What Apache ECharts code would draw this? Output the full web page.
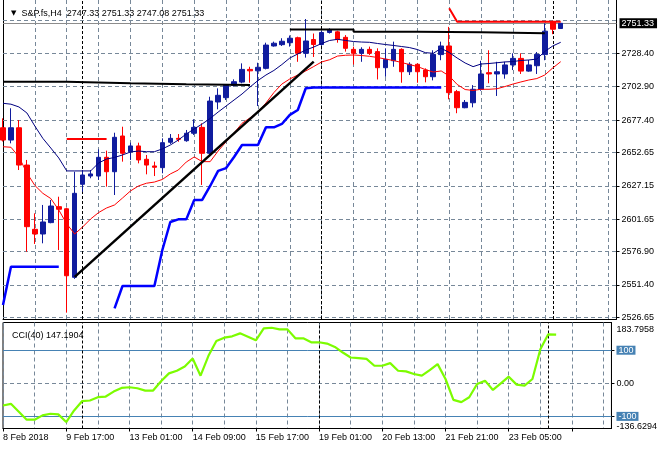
<!DOCTYPE html>
<html>
<head>
<meta charset="utf-8">
<script src="https://cdn.jsdelivr.net/npm/echarts@6/dist/echarts.min.js"></script>
<style>html,body{margin:0;padding:0;background:#fff}#chart{width:660px;height:450px}</style>
</head>
<body>
<div id="chart"></div>
<script>
// ---------- data ----------
const timeLabels = ['8 Feb 2018', '9 Feb 17:00', '13 Feb 01:00', '14 Feb 09:00', '15 Feb 17:00',
  '19 Feb 01:00', '20 Feb 13:00', '21 Feb 21:00', '23 Feb 05:00'];
const LABEL_STEP = 8;   // bars between time labels
const GRID_STEP = 4;    // bars between vertical grid lines
const SLOTS = 77;       // bar slots across the chart (71 bars + empty space)

const opens = [2671.5,2662.1,2671.5,2643.0,2593.9,2590.3,2599.0,2611.2,2609.6,2557.2,
  2628.3,2634.6,2634.6,2648.9,2637.9,2665.2,2653.2,2657.6,2647.4,2642.3,
  2641.0,2660.4,2663.4,2661.6,2667.3,2671.8,2652.0,2691.2,2694.5,2703.9,
  2706.4,2716.1,2715.0,2716.9,2734.0,2735.0,2736.5,2740.3,2728.4,2738.9,
  2735.1,2744.3,2744.8,2740.6,2731.4,2728.4,2731.4,2729.7,2717.4,2722.7,
  2731.4,2714.3,2720.0,2715.6,2710.5,2727.4,2734.0,2699.1,2686.8,2690.6,
  2700.9,2713.6,2712.6,2712.6,2719.5,2724.5,2714.8,2718.9,2727.4,2752.4,2747.33];
const closes = [2662.1,2671.5,2643.0,2595.9,2590.3,2599.5,2611.7,2609.2,2558.4,2621.4,
  2635.4,2636.2,2648.9,2637.9,2664.2,2652.0,2657.6,2646.9,2643.0,2641.3,
  2660.1,2663.4,2662.7,2667.3,2671.8,2652.0,2691.9,2696.3,2703.9,2706.7,
  2716.1,2715.0,2717.7,2734.7,2736.1,2737.6,2739.9,2728.4,2737.8,2735.1,
  2744.3,2746.6,2738.9,2732.2,2728.4,2731.4,2728.4,2717.4,2723.8,2731.4,
  2714.3,2720.0,2714.3,2710.5,2727.6,2734.0,2698.3,2686.8,2690.9,2700.9,
  2712.6,2712.6,2714.3,2719.5,2724.5,2714.8,2719.5,2727.6,2745.3,2746.8,2751.33];
const lows = [2661.0,2659.6,2639.2,2576.8,2582.7,2583.2,2598.5,2578.1,2530.2,2556.0,
  2622.6,2632.9,2631.6,2626.5,2620.1,2645.6,2646.9,2644.3,2635.9,2634.6,
  2636.7,2659.1,2660.8,2660.8,2666.0,2627.8,2650.7,2685.6,2692.7,2702.9,
  2705.5,2705.9,2688.1,2716.1,2733.5,2734.0,2733.5,2721.9,2725.1,2725.6,
  2734.3,2743.5,2736.5,2729.7,2719.8,2721.9,2727.1,2708.4,2710.5,2718.1,
  2705.9,2711.8,2705.9,2706.2,2707.7,2723.1,2693.2,2682.6,2686.4,2687.1,
  2699.8,2705.5,2695.8,2709.0,2715.6,2712.6,2714.3,2712.6,2723.1,2743.0,2747.08];
const highs = [2678.7,2686.4,2677.4,2646.9,2606.1,2612.5,2616.3,2618.8,2610.5,2637.9,
  2639.2,2639.2,2655.0,2654.0,2667.7,2672.3,2660.1,2660.1,2650.7,2645.6,
  2663.4,2666.7,2666.7,2669.8,2678.0,2674.9,2695.2,2701.6,2704.9,2708.5,
  2720.7,2718.1,2721.2,2736.5,2737.3,2739.9,2742.0,2741.1,2754.6,2743.5,
  2745.6,2747.5,2745.6,2742.3,2733.5,2733.0,2733.5,2732.2,2732.2,2737.3,
  2732.2,2721.5,2720.7,2716.9,2730.7,2737.3,2748.6,2700.4,2692.7,2704.1,
  2722.7,2730.7,2721.9,2721.9,2728.4,2728.4,2723.3,2729.4,2751.3,2753.3,2751.33];

const upperMA = [2690.2,2689.5,2687.4,2682.8,2672.8,2663.4,2656.0,2648.4,2638.5,2638.5,
  2638.5,2638.5,2644.6,2647.6,2648.8,2650.7,2653.0,2653.7,2653.2,2653.2,
  2655.3,2658.3,2662.1,2666.7,2670.6,2674.4,2678.6,2683.5,2688.1,2692.7,
  2697.3,2702.6,2707.6,2711.8,2715.3,2719.8,2724.8,2727.9,2730.9,2733.2,
  2735.9,2738.2,2739.1,2738.2,2737.4,2737.0,2736.8,2735.9,2735.1,2734.4,
  2733.6,2732.8,2731.3,2728.9,2728.4,2732.2,2729.0,2724.8,2721.0,2718.2,
  2720.2,2720.6,2721.2,2721.8,2722.1,2722.9,2723.3,2724.0,2729.8,2734.0,2736.8];
const lowerMA = [2657.0,2656.6,2649.2,2636.9,2627.4,2621.4,2617.4,2608.7,2598.0,2590.3,
  2595.7,2601.8,2606.7,2610.2,2612.5,2617.8,2623.2,2627.0,2629.1,2630.0,
  2632.0,2636.2,2639.2,2645.3,2649.2,2645.6,2645.6,2653.7,2660.8,2667.5,
  2674.9,2679.0,2683.5,2690.4,2698.4,2704.9,2708.8,2711.8,2714.9,2718.3,
  2721.8,2723.5,2726.3,2726.9,2727.1,2726.7,2726.1,2725.2,2724.0,2722.9,
  2721.4,2719.8,2718.3,2716.0,2714.1,2714.9,2711.1,2704.6,2700.7,2700.0,
  2700.9,2700.9,2701.3,2703.0,2704.9,2706.5,2708.0,2709.1,2711.8,2717.2,2722.0];
const trailStop = [2536.1,2565.3,2565.3,2565.3,2565.3,2565.3,2565.3,2565.3,null,null,
  null,null,null,null,2533.5,2550.6,2550.6,2550.6,2550.6,2550.6,
  2578.1,2599.5,2601.5,2601.5,2616.3,2616.3,2627.0,2638.5,2640.7,2649.2,
  2658.3,2658.3,2658.3,2671.8,2671.8,2674.4,2681.3,2685.1,2701.7,2702.3,
  2702.3,2702.3,2702.3,2702.3,2702.3,2702.3,2702.3,2702.3,2702.3,2702.3,
  2702.3,2702.3,2702.3,2702.3,2702.3,2702.3,null,null,null,null,
  null,null,null,null,null,null,null,null,null,null,null];
const cci = [-67,-62,-86,-110,-110,-97,-92,-94,-117,-82,
  -54,-52,-42,-40,-25,-14,-12,-15,-22,-22,
  6,30,38,51,75,23,83,128,138,142,
  151,141,130,166,168,163,163,136,136,124,
  124,120,110,93,78,76,74,53,53,61,
  38,36,28,23,40,58,13,-50,-57,-42,
  -2,8,-20,0,20,-4,-7,13,103,148,147.19];

// drawn objects (bar index / price)
const lowLevels = [2706.7, 2705.5, 2704.7, 2704.2];
const lowLevelBars = [0, 8, 16, 23, 31];
const highLevels = [2746.6, 2744.9, 2744.4, 2743.7];
const highLevelBars = [36, 44, 52, 60, 68];
const trendBars = [9, 39];
const trendPrices = [2557.5, 2722.0];
const redLevelBars = [8, 13];
const redLevelPrices = [2662.9, 2662.9];
const redTopBars = [56, 57, 70];
const redTopPrices = [2762.8, 2752.5, 2752.5];
const weekSeparators = [10, 40, 69];

const priceTicks = [2526.65, 2551.40, 2576.90, 2601.65, 2627.15, 2652.65, 2677.40, 2702.90, 2728.40];
const hiddenGridPrice = [2753.90];
const lastPrice = 2751.33;
const headerText = 'S&P.fs,H4  2747.33 2751.33 2747.08 2751.33';
const cciTitle = 'CCI(40) 147.1904';
const cciMax = 183.7958, cciMin = -136.6294;
const cciLevels = [100, -100];

// ---------- build ----------
const FONT = "'Liberation Sans', Arial, sans-serif";
const categories = Array.from({length: SLOTS}, (_, i) =>
  (i % LABEL_STEP === 0 && timeLabels[i / LABEL_STEP]) || '');
const candles = opens.map((o, i) => [o, closes[i], lows[i], highs[i]]);
function steps(levels, bars) {
  const out = [];
  levels.forEach((v, k) => { out.push([bars[k], v]); out.push([bars[k + 1], v]); });
  return out;
}
const pairs = (xs, ys) => xs.map((x, i) => [x, ys[i]]);

const gridLine = {color: '#778899', type: [4, 3], width: 1};
const sepLine = {color: '#000', type: [3, 2], width: 1};
const xMax = 76.6875;

const baseX = {
  type: 'category', data: categories, boundaryGap: false, min: 0, max: xMax,
  axisLine: {show: true, onZero: false, lineStyle: {color: '#000', width: 1}},
  splitLine: {show: true, interval: (i) => i % GRID_STEP === 0, lineStyle: gridLine}
};

const option = {
  animation: false,
  backgroundColor: '#fff',
  textStyle: {fontFamily: FONT},
  title: [
    {text: '{t|▼}  ' + headerText, left: 6, top: 4,
     textStyle: {fontFamily: FONT, fontSize: 9, fontWeight: 'normal', color: '#000',
       rich: {t: {fontFamily: 'DejaVu Sans', fontSize: 7, color: '#000'}}}},
    {text: cciTitle, left: 7, top: 326,
     textStyle: {fontFamily: FONT, fontSize: 9, fontWeight: 'normal', color: '#000'}}
  ],
  grid: [
    {left: 3, top: 0, width: 613.5, height: 319},
    {left: 3, top: 322.5, width: 613.5, height: 106, show: true, borderColor: '#000', borderWidth: 1}
  ],
  xAxis: [
    Object.assign({}, baseX, {gridIndex: 0, axisTick: {show: false}, axisLabel: {show: false}}),
    Object.assign({}, baseX, {gridIndex: 1,
      axisTick: {show: true, interval: (i) => i % LABEL_STEP === 0, length: 3, lineStyle: {color: '#000'}},
      axisLabel: {show: true, interval: (i) => i % LABEL_STEP === 0, align: 'left', margin: 5,
        color: '#000', fontFamily: FONT, fontSize: 9}})
  ],
  yAxis: [
    {gridIndex: 0, type: 'value', position: 'right', min: 2525.35, max: 2769.13,
     axisLine: {show: true, lineStyle: {color: '#000', width: 1}},
     axisTick: {show: true, length: 3, customValues: priceTicks, lineStyle: {color: '#000'}},
     axisLabel: {customValues: priceTicks, formatter: (v) => Number(v).toFixed(2),
       color: '#000', fontFamily: FONT, fontSize: 9, margin: 5},
     splitLine: {show: false}},
    {gridIndex: 0, type: 'value', position: 'left', min: 2525.35, max: 2769.13,
     axisLine: {show: true, lineStyle: {color: '#000', width: 1}},
     axisTick: {show: false}, axisLabel: {show: false}, splitLine: {show: false}},
    {gridIndex: 1, type: 'value', position: 'right', min: cciMin, max: cciMax,
     axisLine: {show: true, lineStyle: {color: '#000', width: 1}},
     axisTick: {show: true, length: 3, customValues: [100, 0, -100], lineStyle: {color: '#000'}},
     axisLabel: {customValues: [cciMax, 100, 0, -100, cciMin], margin: 5, hideOverlap: false,
       showMinLabel: true, showMaxLabel: true,
       color: '#000', fontFamily: FONT, fontSize: 9,
       formatter: (v) => {
         v = Number(v);
         if (Math.abs(v - cciMax) < 1e-6) return '{top|' + cciMax.toFixed(4) + '}';
         if (Math.abs(v - cciMin) < 1e-6) return '{bot|' + cciMin.toFixed(4) + '}';
         if (v === 0) return '0.00';
         return '{lvl|' + v + '}';
       },
       rich: {
         top: {padding: [15, 0, 0, 0]},
         bot: {padding: [0, 0, 3, 0]},
         lvl: {backgroundColor: '#4682b4', color: '#fff', padding: [0, 2, 0, 2], lineHeight: 9}
       }},
     splitLine: {show: false}}
  ],
  series: [
    {type: 'candlestick', name: 'price', xAxisIndex: 0, yAxisIndex: 0, z: 2,
     data: candles, barWidth: 5,
     itemStyle: {color: '#101c9e', color0: '#ff0000', borderColor: '#101c9e', borderColor0: '#ff0000', borderWidth: 1},
     markLine: {
       silent: true, symbol: ['none', 'none'], z: 1, animation: false,
       label: {show: false},
       data: [].concat(
         priceTicks.concat(hiddenGridPrice).map(v => ({yAxis: v, lineStyle: gridLine})),
         weekSeparators.map(b => ({xAxis: b, lineStyle: sepLine})),
         [{yAxis: lastPrice, lineStyle: {color: '#8c8c8c', type: 'solid', width: 1},
           label: {show: true, position: 'end', distance: 3, formatter: lastPrice.toFixed(2),
             backgroundColor: '#000', color: '#fff', padding: [1, 3, 0, 2],
             fontFamily: FONT, fontSize: 9}}])
     }},
    {type: 'line', name: 'upper', xAxisIndex: 0, yAxisIndex: 0, z: 3, data: upperMA,
     symbol: 'none', lineStyle: {color: '#000080', width: 1}},
    {type: 'line', name: 'lower', xAxisIndex: 0, yAxisIndex: 0, z: 3, data: lowerMA,
     symbol: 'none', lineStyle: {color: '#ff0000', width: 1}},
    {type: 'line', name: 'stop', xAxisIndex: 0, yAxisIndex: 0, z: 3, data: trailStop,
     symbol: 'none', connectNulls: false, lineStyle: {color: '#0000ff', width: 2.5}},
    {type: 'line', name: 'trend', xAxisIndex: 0, yAxisIndex: 0, z: 4, data: pairs(trendBars, trendPrices),
     symbol: 'none', lineStyle: {color: '#000', width: 2.5}},
    {type: 'line', name: 'lowLevels', xAxisIndex: 0, yAxisIndex: 0, z: 4, data: steps(lowLevels, lowLevelBars),
     symbol: 'none', lineStyle: {color: '#000', width: 2}},
    {type: 'line', name: 'highLevels', xAxisIndex: 0, yAxisIndex: 0, z: 4, data: steps(highLevels, highLevelBars),
     symbol: 'none', lineStyle: {color: '#000', width: 2}},
    {type: 'line', name: 'redLevel', xAxisIndex: 0, yAxisIndex: 0, z: 4, data: pairs(redLevelBars, redLevelPrices),
     symbol: 'none', lineStyle: {color: '#ff0000', width: 2}},
    {type: 'line', name: 'redTop', xAxisIndex: 0, yAxisIndex: 0, z: 4, data: pairs(redTopBars, redTopPrices),
     symbol: 'none', lineStyle: {color: '#ff0000', width: 2}},
    {type: 'line', name: 'cci', xAxisIndex: 1, yAxisIndex: 2, z: 3, data: cci,
     symbol: 'none', lineStyle: {color: '#7cfc00', width: 2.2},
     markLine: {
       silent: true, symbol: ['none', 'none'], z: 1, animation: false, label: {show: false},
       data: [].concat(
         cciLevels.map(v => ({yAxis: v, lineStyle: {color: '#4682b4', type: 'solid', width: 1}})),
         [{yAxis: 0, lineStyle: gridLine}],
         weekSeparators.map(b => ({xAxis: b, lineStyle: sepLine})))
     }}
  ]
};

const chart = echarts.init(document.getElementById('chart'), null, {renderer: 'canvas'});
chart.setOption(option);
</script>
</body>
</html>
